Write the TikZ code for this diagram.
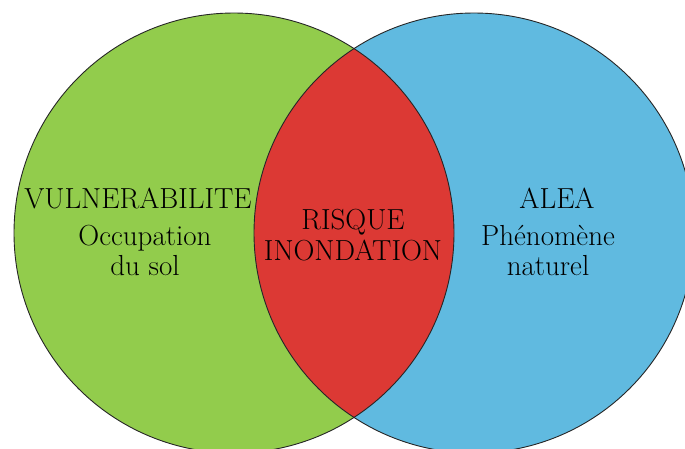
\documentclass[tikz,border=0pt]{standalone}
\definecolor{vgreen}{RGB}{146,204,76}
\definecolor{vblue}{RGB}{96,186,224}
\definecolor{vred}{RGB}{220,57,52}
\tikzset{
  lbl/.style={inner sep=0pt, anchor=base, font=\fontsize{29}{32}\selectfont},
  ring/.style={draw=black!85, line width=0.9pt}
}
\begin{document}
\begin{tikzpicture}[x=1pt,y=-1pt]
\useasboundingbox (0,0) rectangle (685,448);
\clip (0,0) rectangle (685,448);
\coordinate (cl) at (234,233);
\coordinate (cr) at (474,233);
\fill[vgreen] (cl) circle[radius=220];
\fill[vblue] (cr) circle[radius=220];
\begin{scope}
  \clip (cl) circle[radius=220];
  \fill[vred] (cr) circle[radius=220];
\end{scope}
\draw[ring] (cl) circle[radius=220];
\draw[ring] (cr) circle[radius=220];
\node[lbl] (vul) at (138,208) {VULNERABILITE};
\node[lbl] (occ) at (145,245) {Occupation};
\node[lbl] (sol) at (145,275) {du sol};
\node[lbl] (ris) at (353,229) {RISQUE};
\node[lbl] (ino) at (353,260) {INONDATION};
\node[lbl] (ale) at (557,208) {ALEA};
\node[lbl] (phe) at (548,245) {Phénomène};
\node[lbl] (nat) at (548,275) {naturel};
\end{tikzpicture}
\end{document}
